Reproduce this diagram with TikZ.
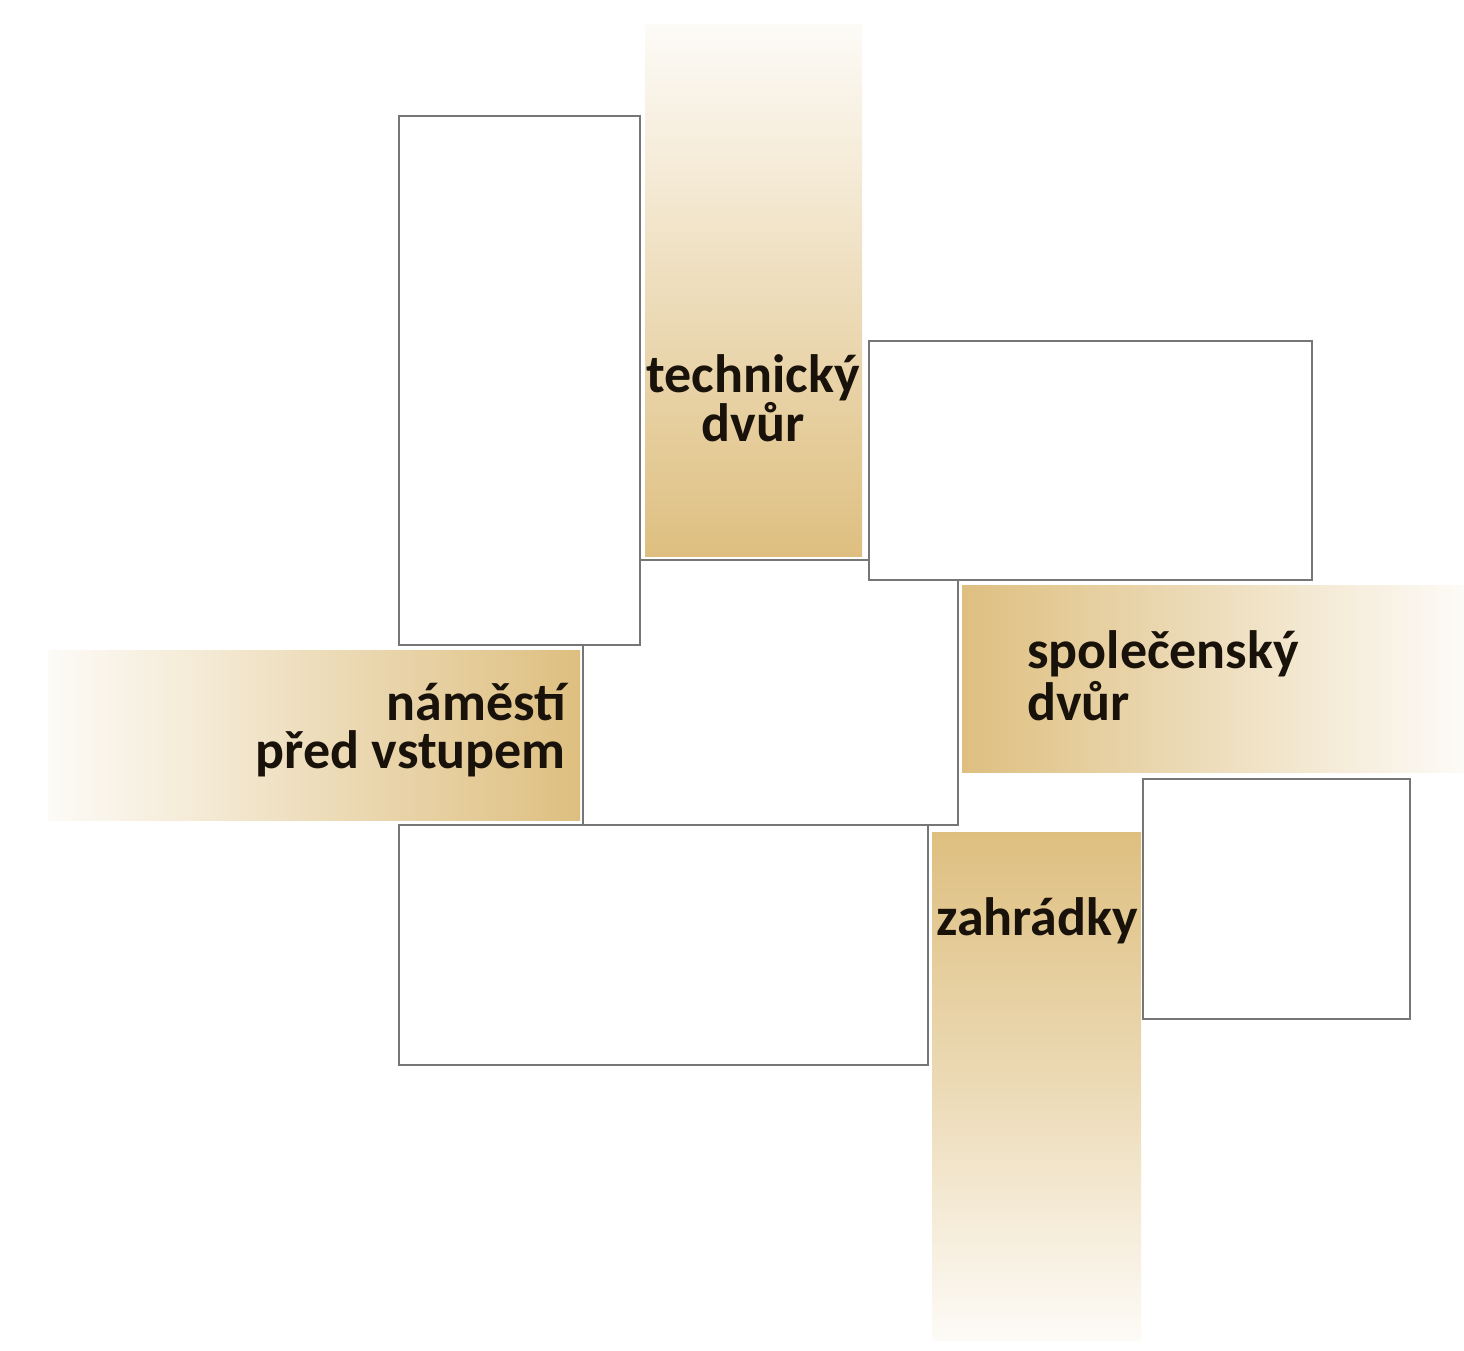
\documentclass[tikz,border=0pt]{standalone}
\usepackage{fontspec}
\setmainfont{Carlito}
\definecolor{gold}{RGB}{222,191,128}
\definecolor{pale}{RGB}{253,251,247}
\definecolor{edge}{RGB}{118,118,118}
\definecolor{ink}{RGB}{25,18,10}
\begin{document}
\begin{tikzpicture}[x=1pt,y=-1pt,
  room/.style={draw=edge,line width=2.5pt,fill=white},
  lbl/.style={text=ink,inner sep=0pt}]
\useasboundingbox (0,0) rectangle (1464,1351);
\fill[white] (0,0) rectangle (1464,1351);
% central courtyard block
\draw[room] (583,560) rectangle (958,825);
% gradient bands
\shade[top color=pale,bottom color=gold] (645,25) rectangle (862,556);
\shade[left color=pale,right color=gold] (48,650) rectangle (580,820);
\shade[left color=gold,right color=pale] (962,585) rectangle (1464,772);
\shade[top color=gold,bottom color=pale,middle color=gold!55!pale] (932,832) rectangle (1141,1340);
% white blocks
\draw[room] (399,116) rectangle (640,645);
\draw[room] (869,341) rectangle (1312,580);
\draw[room] (399,825) rectangle (928,1065);
\draw[room] (1143,779) rectangle (1410,1019);
% labels
\node[lbl,font=\fontsize{54}{47}\selectfont\bfseries,align=center,anchor=base] (tech) at (753,441) {technický\\dvůr};
\node[lbl,font=\fontsize{54}{48}\selectfont\bfseries,align=right,anchor=base east] (nam) at (566,768) {náměstí\\před vstupem};
\node[lbl,font=\fontsize{54}{52}\selectfont\bfseries,align=left,anchor=base west] (spol) at (1027,720) {společenský\\dvůr};
\node[lbl,font=\fontsize{54}{52}\selectfont\bfseries,anchor=base] (zah) at (1037,935) {zahrádky};
\end{tikzpicture}
\end{document}
